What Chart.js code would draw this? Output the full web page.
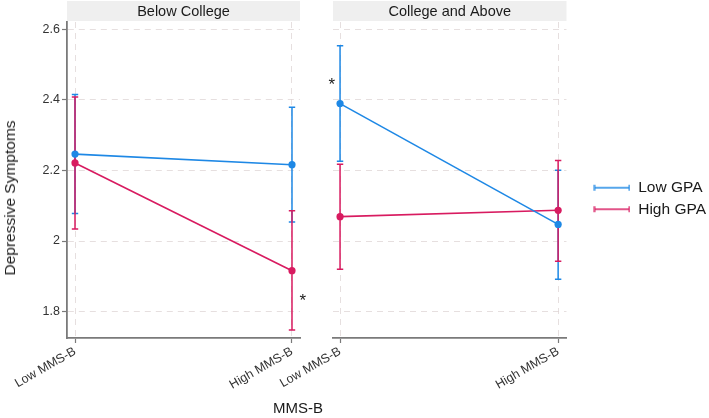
<!DOCTYPE html>
<html>
<head>
<meta charset="utf-8">
<script src="https://cdn.jsdelivr.net/npm/chart.js@4.4.1/dist/chart.umd.min.js"></script>
<style>
  html, body { margin: 0; padding: 0; background: #fff; }
  #wrap { position: relative; width: 709px; height: 418px; background: #fff; overflow: hidden; }
  canvas { position: absolute; top: 0; }
  #xt { position: absolute; left: 248px; width: 100px; top: 398px; text-align: center;
        font: 15px "Liberation Sans", Arial, sans-serif; color: #1a1a1a; line-height: 20px; }
  #yt { position: absolute; left: 9.5px; top: 198px; white-space: nowrap; line-height: 18px;
        transform: translate(-50%, -50%) rotate(-90deg);
        font: 15.5px "Liberation Sans", Arial, sans-serif; color: #1a1a1a; }
</style>
</head>
<body>
<div id="wrap">
  <canvas id="c1" width="315" height="418" style="left:0px"></canvas>
  <canvas id="c2" width="466" height="418" style="left:250px"></canvas>
  <div id="xt">MMS-B</div>
  <div id="yt">Depressive Symptoms</div>
</div>
<script>
// ---- data ----
const categories = ['Low MMS-B', 'High MMS-B'];
const panels = ['Below College', 'College and Above'];
const seriesNames = ['Low GPA', 'High GPA'];
const yTicks = [1.8, 2.0, 2.2, 2.4, 2.6];

const belowLowGPA   = [2.246, 2.216];
const belowLowGPALo = [2.078, 2.054];
const belowLowGPAHi = [2.415, 2.379];
const belowHighGPA   = [2.221, 1.916];
const belowHighGPALo = [2.034, 1.748];
const belowHighGPAHi = [2.408, 2.086];

const aboveLowGPA   = [2.389, 2.047];
const aboveLowGPALo = [2.226, 1.892];
const aboveLowGPAHi = [2.553, 2.200];
const aboveHighGPA   = [2.069, 2.087];
const aboveHighGPALo = [1.920, 1.943];
const aboveHighGPAHi = [2.217, 2.228];

// significance marks: [x position (category units), y value]
const starsBelow = [[1.05, 1.829]];
const starsAbove = [[-0.038, 2.441]];

// ---- styling ----
const BLUE = '#1e88e5';
const PINK = '#d81b60';
const FONT = '"Liberation Sans", Arial, sans-serif';
const GRID = 'rgba(222,212,212,0.75)';
const AXIS = '#7a7a7a';

function legendIcon(color) {
  const c = document.createElement('canvas');
  c.width = 37; c.height = 8;
  const g = c.getContext('2d');
  g.strokeStyle = color; g.lineWidth = 1.6;
  g.beginPath(); g.moveTo(1, 4); g.lineTo(36, 4); g.stroke();
  g.lineWidth = 1.4;
  g.beginPath(); g.moveTo(1.2, 1); g.lineTo(1.2, 7); g.moveTo(35.8, 1); g.lineTo(35.8, 7); g.stroke();
  return c;
}
const icons = [legendIcon(BLUE), legendIcon(PINK)];

const decoPlugin = {
  id: 'deco',
  beforeDraw(chart, args, opts) {
    const {ctx, chartArea: a} = chart;
    ctx.save();
    ctx.fillStyle = '#efefef';
    ctx.fillRect(a.left, 1, a.right - a.left, 20);
    ctx.fillStyle = '#1a1a1a';
    ctx.font = '14.5px ' + FONT;
    ctx.textAlign = 'center';
    ctx.textBaseline = 'middle';
    ctx.fillText(opts.title, (a.left + a.right) / 2, 12);
    ctx.restore();
  },
  beforeDatasetsDraw(chart) {
    const {ctx, scales: {x, y}} = chart;
    ctx.save();
    chart.data.datasets.forEach(ds => {
      ctx.strokeStyle = ds.borderColor;
      ctx.lineWidth = 1.5;
      ds.data.forEach((p, j) => {
        const px = x.getPixelForValue(p.x);
        const lo = y.getPixelForValue(ds.lower[j]);
        const hi = y.getPixelForValue(ds.upper[j]);
        ctx.beginPath();
        ctx.moveTo(px, lo); ctx.lineTo(px, hi);
        ctx.moveTo(px - 3.2, lo); ctx.lineTo(px + 3.2, lo);
        ctx.moveTo(px - 3.2, hi); ctx.lineTo(px + 3.2, hi);
        ctx.stroke();
      });
    });
    ctx.restore();
  },
  afterDatasetsDraw(chart, args, opts) {
    const {ctx, scales: {x, y}} = chart;
    ctx.save();
    ctx.fillStyle = '#1a1a1a';
    ctx.font = '17px ' + FONT;
    ctx.textAlign = 'center';
    ctx.textBaseline = 'middle';
    (opts.stars || []).forEach(s => {
      ctx.fillText('*', x.getPixelForValue(s[0]), y.getPixelForValue(s[1]));
    });
    ctx.restore();
  }
};

function makeDatasets(lowV, lowLo, lowHi, highV, highLo, highHi) {
  const mk = (name, vals, lo, hi, col) => ({
    label: name,
    data: vals.map((v, j) => ({x: j, y: v})),
    lower: lo, upper: hi,
    borderColor: col, backgroundColor: col,
    borderWidth: 1.6, pointRadius: 3.6, pointBorderWidth: 0,
    pointBackgroundColor: col, tension: 0
  });
  return [
    mk(seriesNames[0], lowV, lowLo, lowHi, BLUE),
    mk(seriesNames[1], highV, highLo, highHi, PINK)
  ];
}

function xScale(min, max) {
  return {
    type: 'linear', min: min, max: max,
    afterBuildTicks: s => { s.ticks = categories.map((c, i) => ({value: i})); },
    afterFit: s => { s.height = 80; },
    ticks: {
      callback: v => categories[v],
      minRotation: 30, maxRotation: 30, autoSkip: false,
      font: {family: FONT, size: 12.5}, color: '#333', padding: 1
    },
    grid: { color: GRID, lineWidth: 1, tickColor: AXIS, tickLength: 5, tickWidth: 1.2 },
    border: { display: true, color: AXIS, width: 1.8, dash: [6, 5] }
  };
}

function yScale(showAxis, width) {
  return {
    type: 'linear', min: 1.7255, max: 2.62,
    afterBuildTicks: s => { s.ticks = yTicks.map(v => ({value: v})); },
    afterFit: s => { s.width = width; },
    title: {display: false},
    ticks: {
      display: showAxis,
      callback: v => String(+(+v).toFixed(1)),
      font: {family: FONT, size: 12.5}, color: '#333', padding: 2
    },
    grid: { color: GRID, lineWidth: 1, tickColor: AXIS, tickLength: 5, tickWidth: 1.2, drawTicks: showAxis },
    border: { display: showAxis, color: AXIS, width: 1.8, dash: [6, 5] }
  };
}

Chart.register(decoPlugin);

new Chart(document.getElementById('c1'), {
  type: 'line',
  data: { datasets: makeDatasets(belowLowGPA, belowLowGPALo, belowLowGPAHi, belowHighGPA, belowHighGPALo, belowHighGPAHi) },
  options: {
    responsive: false, animation: false, events: [],
    layout: { padding: {top: 22, right: 15, left: 0, bottom: 0} },
    scales: { x: xScale(-0.0369, 1.0369), y: yScale(true, 67) },
    plugins: {
      legend: {display: false}, tooltip: {enabled: false},
      deco: { title: panels[0], stars: starsBelow }
    }
  }
});

new Chart(document.getElementById('c2'), {
  type: 'line',
  data: { datasets: makeDatasets(aboveLowGPA, aboveLowGPALo, aboveLowGPAHi, aboveHighGPA, aboveHighGPALo, aboveHighGPAHi) },
  options: {
    responsive: false, animation: false, events: [],
    layout: { padding: {top: 22, right: 0, left: 0, bottom: 0} },
    scales: {
      x: xScale(-0.0323, 1.0383),
      y: yScale(false, 83),
      yR: { type: 'linear', position: 'right', display: true,
            afterFit: s => { s.width = 21; },
            ticks: {display: false}, grid: {display: false}, border: {display: false} }
    },
    plugins: {
      tooltip: {enabled: false},
      deco: { title: panels[1], stars: starsAbove },
      legend: {
        display: true, position: 'right', align: 'start', maxWidth: 300,
        title: { display: true, text: ' ', font: {size: 1, lineHeight: 1}, padding: {top: 151, bottom: 0} },
        labels: {
          usePointStyle: true, pointStyleWidth: 37, boxHeight: 8, padding: 6,
          color: '#1a1a1a', font: {family: FONT, size: 15.5},
          generateLabels: chart => {
            const items = Chart.defaults.plugins.legend.labels.generateLabels(chart);
            items.forEach((it, i) => { it.pointStyle = icons[i]; });
            return items;
          }
        }
      }
    }
  }
});
</script>
</body>
</html>
